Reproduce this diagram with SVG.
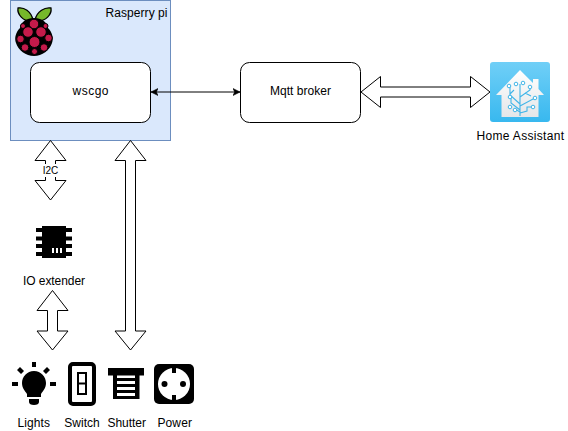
<svg xmlns="http://www.w3.org/2000/svg" width="568" height="431" viewBox="0 0 568 431">
<style>
text{font-family:"Liberation Sans",Arial,sans-serif;font-size:12px;fill:#000;text-anchor:middle}
.box{fill:#fff;stroke:#000;stroke-width:1}
.big{fill:#fff;stroke:#000;stroke-width:1;stroke-linejoin:miter}
.k{fill:#000}
.leaf{fill:#76b82a;stroke:#000;stroke-width:1.3}
.ber{fill:#c51a4a;stroke:#000;stroke-width:1}
.tr{fill:none;stroke:#41b5e8;stroke-width:1.1}
.nd{fill:#fff;stroke:#41b5e8;stroke-width:1}
</style>
<defs>
<marker id="blk" markerUnits="userSpaceOnUse" markerWidth="8" markerHeight="8" refX="7" refY="4" orient="auto-start-reverse"><path d="M0,0.5L7,4L0,7.5L1.7,4Z" fill="#000" stroke="#000" stroke-width="0.6"/></marker>
<linearGradient id="ha" x1="0" y1="0" x2="0" y2="1"><stop offset="0" stop-color="#70cff7"/><stop offset="1" stop-color="#38b8ef"/></linearGradient>
<linearGradient id="hs" x1="0" y1="0" x2="0" y2="1"><stop offset="0" stop-color="#fff"/><stop offset="1" stop-color="#e4e6e8"/></linearGradient>
</defs>
<g id="raspberry-pi">
<rect x="10.5" y="0.5" width="160" height="140" fill="#dae8fc" stroke="#6c8ebf"/>
<text x="136.500" y="17" textLength="62">Rasperry pi</text>
<g id="raspberry-logo">
<path class="leaf" d="M33,20C31,11 24,7 18,8C17,14 23,22 32,21Z"/>
<path class="leaf" d="M35,20C37,11 45,7 51,8C52,14 46,22 36,21Z"/>
<path d="M34,18C25,18 20,24 20,28C16,32 14,38 16,43C18,50 26,56 34,56C42,56 50,50 52,43C54,38 52,32 48,28C48,24 43,18 34,18Z" fill="#000"/>
<circle class="ber" cx="34" cy="24" r="4.800"/>
<circle class="ber" cx="28" cy="32" r="5.300"/>
<circle class="ber" cx="41" cy="32" r="5.300"/>
<circle class="ber" cx="20.500" cy="39" r="3.800"/>
<circle class="ber" cx="48.500" cy="38" r="3.800"/>
<circle class="ber" cx="34.500" cy="42" r="5.500"/>
<circle class="ber" cx="25" cy="47.500" r="3.800"/>
<circle class="ber" cx="44" cy="47.500" r="3.800"/>
<circle class="ber" cx="34.500" cy="51.500" r="3"/>
<circle class="ber" cx="23" cy="26" r="2.500"/>
<circle class="ber" cx="45.500" cy="26" r="2.500"/>
</g>
</g>
<g id="connectors">
<line x1="151" y1="92" x2="240" y2="92" stroke="#000" marker-start="url(#blk)" marker-end="url(#blk)"/>
<path class="big" d="M361,92L380.500,76.500V87H470.500V76.500L490,92L470.500,107.500V97H380.500V107.500Z"/>
<path class="big" d="M50.500,140.500L66,160.500H55.500V180.500H66L50.500,200L35,180.500H45.500V160.500H35Z"/>
<path class="big" d="M130.500,140.500L146,160.500H135.500V331H146L130.500,350L115,331H125.500V160.500H115Z"/>
<path class="big" d="M52.500,290.500L68,310.500H57.500V331H68L52.500,350L37,331H47.500V310.500H37Z"/>
<rect x="41" y="164" width="19" height="13" fill="#fff"/>
<text x="50.500" y="174" style="font-size:10px">I2C</text>
</g>
<g id="wscgo">
<rect class="box" x="30.500" y="62.500" width="120" height="60" rx="9"/>
<text x="90.500" y="95" textLength="36">wscgo</text>
</g>
<g id="mqtt-broker">
<rect class="box" x="240.500" y="62.500" width="120" height="60" rx="9"/>
<text x="300.500" y="95" textLength="61">Mqtt broker</text>
</g>
<g id="home-assistant">
<rect x="490" y="62" width="60" height="60" rx="3" fill="url(#ha)"/>
<path d="M496,95L520,70L533,83V79H538.500V89L544,95H538.500V117H501.500V95Z" fill="url(#hs)"/>
<path class="tr" d="M520,116V84M520,104L510,95V87M520,97L530,90V88M520,110L511,103V97M520,106L533,99H535M514,90L510,94M525,93L531,96M520,112L515,109M520,113L527,111V107H533"/>
<circle class="nd" cx="509" cy="86" r="1.800"/><circle class="nd" cx="516" cy="84" r="1.800"/><circle class="nd" cx="523" cy="83" r="1.800"/><circle class="nd" cx="530" cy="87" r="1.800"/><circle class="nd" cx="510" cy="97" r="1.800"/><circle class="nd" cx="535" cy="98" r="1.800"/><circle class="nd" cx="510" cy="107" r="1.800"/><circle class="nd" cx="515" cy="110" r="1.800"/><circle class="nd" cx="533" cy="107" r="1.800"/>
<text x="520.300" y="140" textLength="87.500">Home Assistant</text>
</g>
<g id="io-extender">
<path class="k" d="M42,226H66V258H42Z"/>
<path class="k" d="M36,228H72V232H36ZM36,236.500H72V240.500H36ZM36,244H72V248H36ZM36,252H72V256H36Z"/>
<path d="M52,248H54V253H52ZM56,248H58V253H56ZM60,248H62V253H60Z" fill="#fff"/>
<text x="54" y="285" textLength="62">IO extender</text>
</g>
<g id="lights">
<path class="k" d="M34,371C27,371 22,377 22,383C22,388 25,391 27,394V397H41V394C43,391 46,388 46,383C46,377 41,371 34,371ZM29,399H39V402C39,404 37,405 34,405C31,405 29,404 29,402Z"/>
<path class="k" d="M32,362H36V367H32ZM12,382H18V386H12ZM50,382H56V386H50Z"/>
<path class="k" d="M17,370L20,367L24,371L21,374ZM50,370L47,367L43,371L46,374Z"/>
<text x="33.800" y="427" textLength="32.500">Lights</text>
</g>
<g id="switch">
<rect x="70" y="364" width="24" height="40" rx="3" fill="#fff" stroke="#000" stroke-width="4"/>
<rect x="78" y="373" width="8" height="21" fill="#fff" stroke="#000" stroke-width="2"/>
<path class="k" d="M78,382.500H86V384.500H78Z"/>
<text x="82" y="427" textLength="35.500">Switch</text>
</g>
<g id="shutter">
<path class="k" d="M108,368H144V375.500H139.500V399H135V375.500H117V399H113V375.500H108Z"/>
<path class="k" d="M117,378H135V381H117ZM117,384H135V387H117ZM117,390H135V393H117ZM117,396H135V399H117Z"/>
<text x="126.700" y="427" textLength="38.500">Shutter</text>
</g>
<g id="power">
<rect x="154" y="364" width="40" height="40" rx="5" fill="#000"/>
<circle cx="174" cy="384" r="16" fill="#fff"/>
<path class="k" d="M172,367H176V373H172ZM172,395H176V401H172Z"/>
<circle cx="164.500" cy="384" r="3" fill="#000"/>
<circle cx="183" cy="384" r="3" fill="#000"/>
<text x="174.700" y="427" textLength="34.500">Power</text>
</g>
</svg>
